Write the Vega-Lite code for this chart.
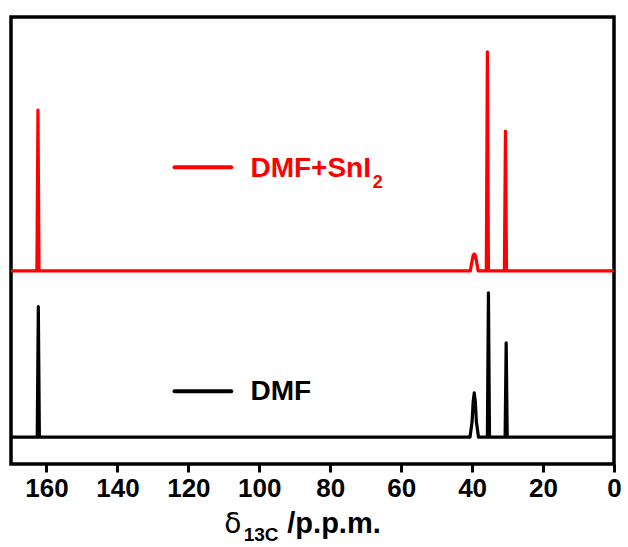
{
  "$schema": "https://vega.github.io/schema/vega-lite/v6.json",
  "width": 603,
  "height": 447,
  "autosize": "none",
  "padding": {"left": 11, "top": 17, "right": 14, "bottom": 83},
  "background": "white",
  "config": {
    "view": {"stroke": "black", "strokeWidth": 3.5},
    "font": "Liberation Sans"
  },
  "datasets": {
    "spectra": [
      {"series": "DMF+SnI2", "ppm": 170, "intensity": 43.2},
      {"series": "DMF+SnI2", "ppm": 162.7, "intensity": 43.2},
      {"series": "DMF+SnI2", "ppm": 162.4, "intensity": 79.2},
      {"series": "DMF+SnI2", "ppm": 162.1, "intensity": 43.2},
      {"series": "DMF+SnI2", "ppm": 40.5, "intensity": 43.2},
      {"series": "DMF+SnI2", "ppm": 40.0, "intensity": 45.5},
      {"series": "DMF+SnI2", "ppm": 39.7, "intensity": 46.7},
      {"series": "DMF+SnI2", "ppm": 39.4, "intensity": 47.0},
      {"series": "DMF+SnI2", "ppm": 39.1, "intensity": 46.7},
      {"series": "DMF+SnI2", "ppm": 38.8, "intensity": 45.5},
      {"series": "DMF+SnI2", "ppm": 38.3, "intensity": 43.2},
      {"series": "DMF+SnI2", "ppm": 36.0, "intensity": 43.2},
      {"series": "DMF+SnI2", "ppm": 35.7, "intensity": 92.2},
      {"series": "DMF+SnI2", "ppm": 35.4, "intensity": 43.2},
      {"series": "DMF+SnI2", "ppm": 30.9, "intensity": 43.2},
      {"series": "DMF+SnI2", "ppm": 30.6, "intensity": 74.5},
      {"series": "DMF+SnI2", "ppm": 30.3, "intensity": 43.2},
      {"series": "DMF+SnI2", "ppm": 0, "intensity": 43.2},
      {"series": "DMF", "ppm": 170, "intensity": 6.0},
      {"series": "DMF", "ppm": 162.6, "intensity": 6.0},
      {"series": "DMF", "ppm": 162.3, "intensity": 35.2},
      {"series": "DMF", "ppm": 162.0, "intensity": 6.0},
      {"series": "DMF", "ppm": 40.6, "intensity": 6.0},
      {"series": "DMF", "ppm": 40.0, "intensity": 9.5},
      {"series": "DMF", "ppm": 39.7, "intensity": 14.0},
      {"series": "DMF", "ppm": 39.4, "intensity": 15.9},
      {"series": "DMF", "ppm": 39.1, "intensity": 14.0},
      {"series": "DMF", "ppm": 38.8, "intensity": 9.5},
      {"series": "DMF", "ppm": 38.2, "intensity": 6.0},
      {"series": "DMF", "ppm": 35.7, "intensity": 6.0},
      {"series": "DMF", "ppm": 35.4, "intensity": 38.3},
      {"series": "DMF", "ppm": 35.1, "intensity": 6.0},
      {"series": "DMF", "ppm": 30.7, "intensity": 6.0},
      {"series": "DMF", "ppm": 30.4, "intensity": 27.1},
      {"series": "DMF", "ppm": 30.1, "intensity": 6.0},
      {"series": "DMF", "ppm": 0, "intensity": 6.0}
    ],
    "keys": [
      {"series": "DMF+SnI2", "from": 123.9, "to": 107.9, "level": 66.4},
      {"series": "DMF", "from": 123.9, "to": 107.9, "level": 16.3}
    ],
    "keyText": [
      {"series": "DMF+SnI2", "text": "DMF+SnI", "ppm": 102.5, "level": 64.2},
      {"series": "DMF", "text": "DMF", "ppm": 102.5, "level": 14.3}
    ],
    "keySub": [
      {"series": "DMF+SnI2", "text": "2", "ppm": 68.0, "level": 61.8}
    ],
    "titleMain": [
      {"text": "/p.p.m.", "ppm": 92.1, "level": -15.4}
    ],
    "titleDelta": [
      {"text": "δ", "ppm": 109.9, "level": -15.4}
    ],
    "titleSub": [
      {"text": "13C", "ppm": 104.4, "level": -17.2}
    ]
  },
  "layer": [
    {
      "data": {"name": "spectra"},
      "mark": {"type": "line", "strokeWidth": 3.2, "strokeJoin": "round", "strokeCap": "round", "clip": true},
      "encoding": {
        "x": {
          "field": "ppm", "type": "quantitative",
          "scale": {"domain": [170, 0], "nice": false, "zero": false},
          "axis": {
            "orient": "bottom",
            "values": [160, 150, 140, 130, 120, 110, 100, 90, 80, 70, 60, 50, 40, 30, 20, 10, 0],
            "labelExpr": "datum.value % 20 === 0 ? datum.label : ''",
            "domain": false,
            "grid": false,
            "ticks": true,
            "tickColor": "black",
            "tickWidth": 3,
            "tickSize": {"condition": {"test": "datum.value % 20 === 0", "value": 8}, "value": 5},
            "labelFont": "Liberation Sans",
            "labelFontSize": 26,
            "labelFontWeight": "bold",
            "labelColor": "black",
            "labelPadding": 3,
            "labelFlush": false,
            "labelOverlap": false,
            "title": null
          }
        },
        "y": {
          "field": "intensity", "type": "quantitative",
          "scale": {"domain": [0, 100], "nice": false, "zero": false},
          "axis": null
        },
        "color": {
          "field": "series", "type": "nominal",
          "scale": {"domain": ["DMF+SnI2", "DMF"], "range": ["#ff0000", "#000000"]},
          "legend": null
        },
        "detail": {"field": "series"}
      }
    },
    {
      "data": {"name": "keys"},
      "mark": {"type": "rule", "strokeWidth": 4, "strokeCap": "round"},
      "encoding": {
        "x": {"field": "from", "type": "quantitative"},
        "x2": {"field": "to"},
        "y": {"field": "level", "type": "quantitative"},
        "color": {"field": "series", "type": "nominal"}
      }
    },
    {
      "data": {"name": "keyText"},
      "mark": {"type": "text", "align": "left", "baseline": "alphabetic", "font": "Liberation Sans", "fontSize": 28, "fontWeight": "bold"},
      "encoding": {
        "x": {"field": "ppm", "type": "quantitative"},
        "y": {"field": "level", "type": "quantitative"},
        "text": {"field": "text"},
        "color": {"field": "series", "type": "nominal"}
      }
    },
    {
      "data": {"name": "keySub"},
      "mark": {"type": "text", "align": "left", "baseline": "alphabetic", "font": "Liberation Sans", "fontSize": 18, "fontWeight": "bold"},
      "encoding": {
        "x": {"field": "ppm", "type": "quantitative"},
        "y": {"field": "level", "type": "quantitative"},
        "text": {"field": "text"},
        "color": {"field": "series", "type": "nominal"}
      }
    },
    {
      "data": {"name": "titleMain"},
      "mark": {"type": "text", "align": "left", "baseline": "alphabetic", "font": "Liberation Sans", "fontSize": 29, "fontWeight": "bold", "color": "black"},
      "encoding": {
        "x": {"field": "ppm", "type": "quantitative"},
        "y": {"field": "level", "type": "quantitative"},
        "text": {"field": "text"}
      }
    },
    {
      "data": {"name": "titleDelta"},
      "mark": {"type": "text", "align": "left", "baseline": "alphabetic", "font": "DejaVu Sans", "fontSize": 28, "fontWeight": "normal", "color": "black"},
      "encoding": {
        "x": {"field": "ppm", "type": "quantitative"},
        "y": {"field": "level", "type": "quantitative"},
        "text": {"field": "text"}
      }
    },
    {
      "data": {"name": "titleSub"},
      "mark": {"type": "text", "align": "left", "baseline": "alphabetic", "font": "Liberation Sans", "fontSize": 19, "fontWeight": "bold", "color": "black"},
      "encoding": {
        "x": {"field": "ppm", "type": "quantitative"},
        "y": {"field": "level", "type": "quantitative"},
        "text": {"field": "text"}
      }
    }
  ]
}
